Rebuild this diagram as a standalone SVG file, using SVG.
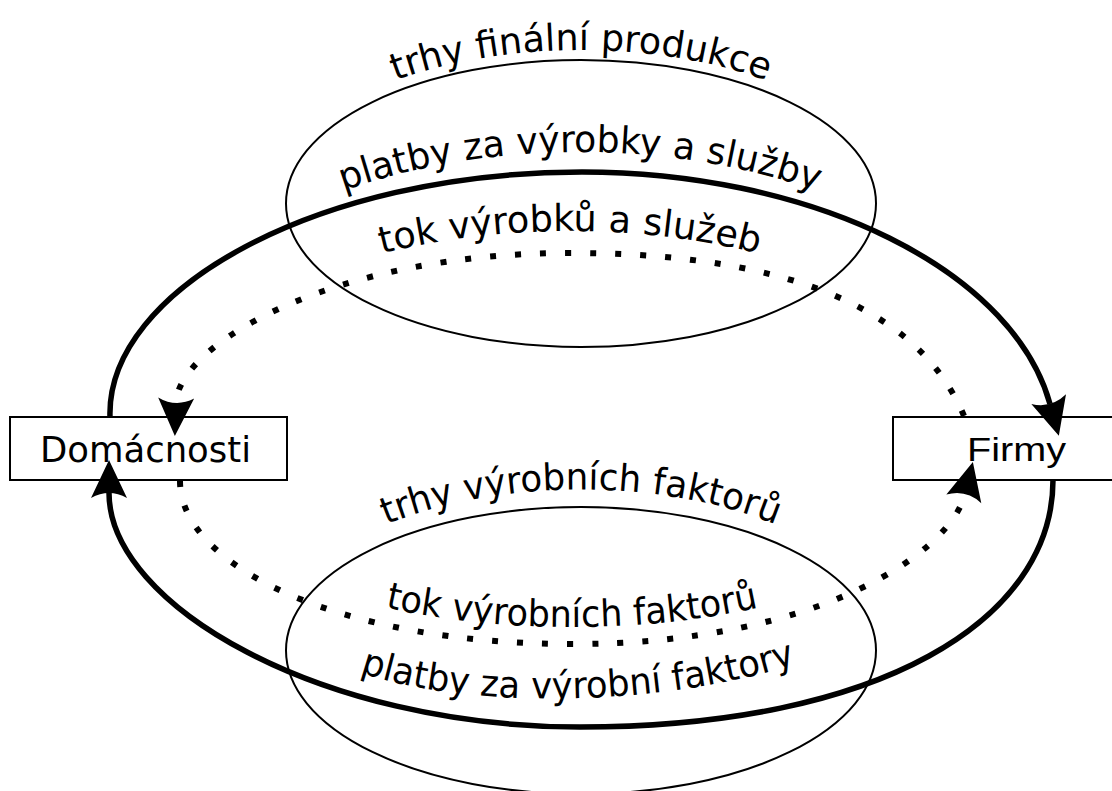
<svg xmlns="http://www.w3.org/2000/svg" width="1112" height="791" viewBox="0 0 1112 791">
<style>
.box{fill:#fff;stroke:#000;stroke-width:2}
.oval{fill:none;stroke:#000;stroke-width:2}
.lbl{font-family:"DejaVu Sans",Verdana,sans-serif;font-size:35px;fill:#000}
.arc{font-size:37px}
.firm{font-family:"Liberation Sans",Arial,sans-serif;font-size:34px;fill:#000}
.money{fill:none;stroke:#000;stroke-width:5.5}
.goods{fill:none;stroke:#000;stroke-width:6;stroke-dasharray:6 19}
</style>
<defs>
<marker id="ah" markerUnits="userSpaceOnUse" markerWidth="40" markerHeight="40" viewBox="0 -20 40 40" refX="5" refY="0" orient="auto" overflow="visible">
<path d="M0,-18 Q10,0 0,18 L38,0 Z" fill="#000"/>
</marker>
<path id="tp1" d="M 269,206 A 312 156 0 0 1 893,206"/>
<path id="tp2" d="M 100,450 A 480 298 0 0 1 1060,450"/>
<path id="tp3" d="M 144,450 A 426 219 0 0 1 996,450"/>
<path id="tp4" d="M 267,652 A 314 162.5 0 0 1 895,652"/>
<path id="tp5" d="M 188,472 A 384 155 0 0 0 956,472"/>
<path id="tp6" d="M 338,664 C 458,716 688,706 818,656"/>
</defs>
<rect width="1112" height="791" fill="#fff"/>
<g id="market-final">
<ellipse class="oval" cx="581" cy="203.5" rx="295" ry="143.5"/>
<text class="lbl arc"><textPath href="#tp1" startOffset="50%" text-anchor="middle" textLength="378" lengthAdjust="spacingAndGlyphs">trhy finální produkce</textPath></text>
</g>
<g id="market-factors">
<ellipse class="oval" cx="581" cy="650.5" rx="295" ry="143.5"/>
<text class="lbl arc"><textPath href="#tp4" startOffset="50%" text-anchor="middle" textLength="398" lengthAdjust="spacingAndGlyphs">trhy výrobních faktorů</textPath></text>
</g>
<g id="domacnosti">
<rect class="box" x="10" y="417" width="277" height="63"/>
<text class="lbl" x="40" y="462" textLength="211" lengthAdjust="spacingAndGlyphs">Domácnosti</text>
</g>
<g id="firmy">
<rect class="box" x="893" y="417" width="240" height="63"/>
<text class="firm" x="967" y="461" textLength="99" lengthAdjust="spacingAndGlyphs">Firmy</text>
</g>
<g id="connectors">
<path class="money" d="M 110,417 C 106,290 317,172 582,172 A 475 276 0 0 1 1050,404" marker-end="url(#ah)"/>
<path class="money" d="M 1053,480 C 1053,620 880,727 580,727 C 320,727 109,605 109,493" marker-end="url(#ah)"/>
<path class="goods" d="M 964,416 C 931.4,337.3 837,253 570,253 C 332,253 178,345 176,403" marker-end="url(#ah)"/>
<path class="goods" d="M 180,481 C 180,566 340,644 572,644 C 821,644 951,551 965,494" marker-end="url(#ah)"/>
</g>
<g id="flow-labels">
<text class="lbl arc"><textPath href="#tp2" startOffset="50%" text-anchor="middle" textLength="482" lengthAdjust="spacingAndGlyphs">platby za výrobky a služby</textPath></text>
<text class="lbl arc"><textPath href="#tp3" startOffset="50%" text-anchor="middle" textLength="380" lengthAdjust="spacingAndGlyphs">tok výrobků a služeb</textPath></text>
<text class="lbl arc"><textPath href="#tp5" startOffset="50%" text-anchor="middle" textLength="376" lengthAdjust="spacingAndGlyphs">tok výrobních faktorů</textPath></text>
<text class="lbl arc"><textPath href="#tp6" startOffset="50%" text-anchor="middle" textLength="442" lengthAdjust="spacingAndGlyphs">platby za výrobní faktory</textPath></text>
</g>
</svg>
